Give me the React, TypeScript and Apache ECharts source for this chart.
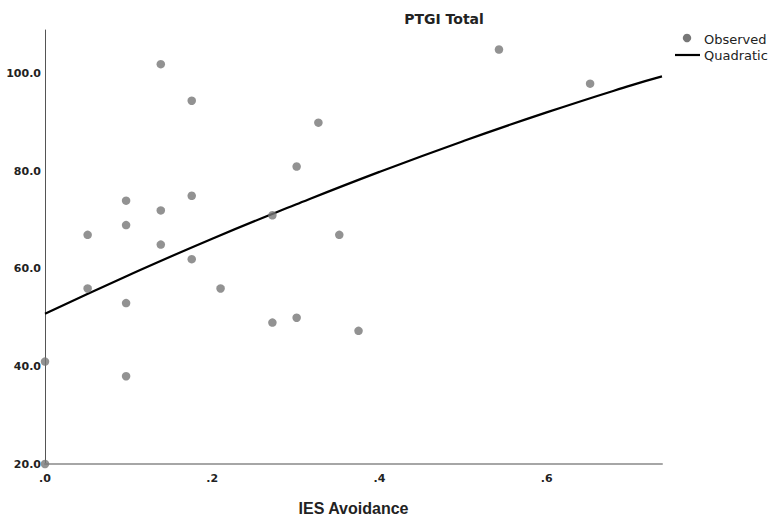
import React, { useEffect, useRef } from "react";
import * as echarts from "echarts";

// Observed points: IES Avoidance (x) vs PTGI Total (y)
const iesAvoidance = [
  0.0, 0.0, 0.051, 0.051, 0.097, 0.097, 0.097, 0.097, 0.1385, 0.1385, 0.1385, 0.1755,
  0.1755, 0.1755, 0.21, 0.272, 0.272, 0.301, 0.301, 0.327, 0.352, 0.375, 0.543, 0.652,
];
const ptgiTotal = [
  20, 41, 67, 56, 74, 69, 53, 38, 102, 72, 65, 94.5,
  75, 62, 56, 71, 49, 81, 50, 90, 67, 47.3, 105, 98,
];

// Quadratic fit line
const fitX = [0, 0.1, 0.2, 0.3, 0.4, 0.5, 0.6, 0.7, 0.738];
const fitY = [50.8, 58.7, 66.2, 73.2, 79.9, 86.2, 92.1, 97.6, 99.5];

const xTicks = [0, 0.2, 0.4, 0.6];
const yTicks = [20, 40, 60, 80, 100];

const FONT = "'DejaVu Sans', 'Liberation Sans', Arial, sans-serif";
const NAME_FONT = "'Liberation Sans', Arial, sans-serif";

export default function App() {
  const ref = useRef<HTMLDivElement>(null);
  useEffect(() => {
    if (!ref.current) return;
    const chart = echarts.init(ref.current, undefined, { renderer: "svg" });
    const observed = iesAvoidance.map((x, i) => [x, ptgiTotal[i]]);
    const fit = fitX.map((x, i) => [x, fitY[i]]);
    chart.setOption({
      animation: false,
      backgroundColor: "#ffffff",
      title: {
        text: "PTGI Total",
        left: 439,
        top: 7,
        textAlign: "center",
        textStyle: { fontFamily: FONT, fontSize: 14, fontWeight: "bold", color: "#222" },
      },
      grid: { left: 45, right: 109, top: 30, bottom: 58, containLabel: false },
      xAxis: {
        type: "value",
        min: 0,
        max: 0.738,
        interval: 0.2,
        name: "IES Avoidance",
        nameLocation: "middle",
        nameGap: 36,
        nameTextStyle: { fontFamily: NAME_FONT, fontSize: 16, fontWeight: "bold", color: "#222" },
        axisLine: { show: true, lineStyle: { color: "#a6a6a6", width: 2 } },
        axisTick: { show: false },
        splitLine: { show: false },
        axisLabel: {
          showMaxLabel: false,
          margin: 9,
          fontFamily: FONT,
          fontSize: 11,
          fontWeight: "bold",
          color: "#222",
          formatter: (v: number) =>
            xTicks.some((t) => Math.abs(t - v) < 1e-6) ? v.toFixed(1).replace(/^0/, "") : "",
        },
      },
      yAxis: {
        type: "value",
        min: 20,
        max: 109,
        interval: 20,
        axisLine: { show: true, lineStyle: { color: "#555", width: 1 } },
        axisTick: { show: false },
        splitLine: { show: false },
        axisLabel: {
          showMaxLabel: false,
          margin: 4,
          fontFamily: FONT,
          fontSize: 11,
          fontWeight: "bold",
          color: "#222",
          formatter: (v: number) => (yTicks.includes(v) ? v.toFixed(1) : ""),
        },
      },
      series: [
        {
          name: "Observed",
          type: "scatter",
          data: observed,
          symbol: "circle",
          symbolSize: 8.5,
          itemStyle: { color: "#777777" },
          z: 3,
        },
        {
          name: "Quadratic",
          type: "line",
          data: fit,
          smooth: true,
          showSymbol: false,
          symbol: "none",
          lineStyle: { color: "#000", width: 2.2 },
          z: 2,
        },
      ],
      graphic: [
        {
          type: "circle",
          shape: { cx: 687, cy: 38, r: 4.2 },
          style: { fill: "#777777" },
        },
        {
          type: "text",
          x: 704,
          y: 39,
          style: {
            text: "Observed",
            fontFamily: FONT,
            fontSize: 13,
            fill: "#222",
            verticalAlign: "middle",
          },
        },
        {
          type: "line",
          shape: { x1: 675, y1: 55, x2: 700, y2: 55 },
          style: { stroke: "#000", lineWidth: 2.2 },
        },
        {
          type: "text",
          x: 704,
          y: 55,
          style: {
            text: "Quadratic",
            fontFamily: FONT,
            fontSize: 13,
            fill: "#222",
            verticalAlign: "middle",
          },
        },
      ],
    });
    return () => chart.dispose();
  }, []);
  return (
    <div
      ref={ref}
      style={{ position: "fixed", left: 0, top: 0, width: 771, height: 522, background: "#fff" }}
    />
  );
}
